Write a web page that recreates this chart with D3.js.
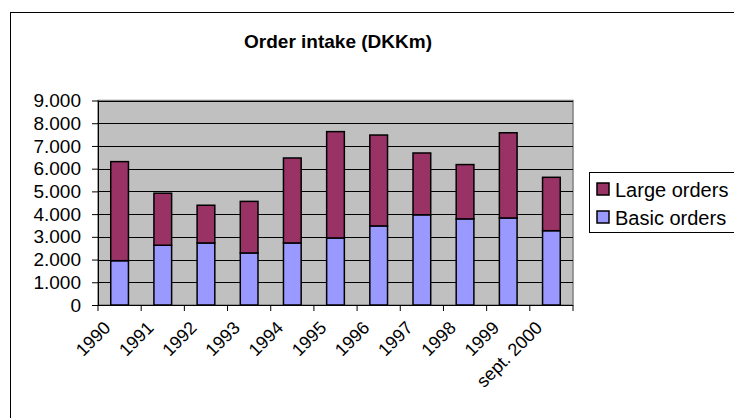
<!DOCTYPE html>
<html><head><meta charset="utf-8">
<script src="https://cdn.jsdelivr.net/npm/d3@7"></script>
<style>body{margin:0;background:#fff}svg{display:block}text{font-family:"Liberation Sans",Arial,sans-serif}</style>
</head><body>
<svg id="c" width="734" height="418"></svg>
<script>
const categories = ["1990","1991","1992","1993","1994","1995","1996","1997","1998","1999","sept. 2000"];
const basicOrders = [1950,2630,2730,2290,2730,2950,3480,3970,3790,3830,3270];
const largeOrders = [4360,2290,1660,2270,3740,4680,4000,2720,2390,3750,2350];
const seriesNames = ["Large orders","Basic orders"];
const yTicks = [0,1000,2000,3000,4000,5000,6000,7000,8000,9000];
const colors = {"Basic orders":"#9999FF","Large orders":"#993366"};

const svg = d3.select("#c");
const fmt = v => v === 0 ? "0" : d3.format(",")(v).replace(/,/g,".");

svg.append("rect").attr("x",10.5).attr("y",12.5).attr("width",740).attr("height",420)
  .attr("fill","#fff").attr("stroke","#000").attr("stroke-width",1);

const L=98, R=573, T=100.5, B=305;
const x = d3.scaleBand().domain(categories).range([L,R]).paddingInner(0.59).paddingOuter(0.295);
const xb = d3.scaleBand().domain(categories).range([L,R]);
const y = d3.scaleLinear().domain([0,9000]).range([B,T]);

svg.append("text").attr("x",338).attr("y",48).attr("text-anchor","middle")
  .attr("font-weight","bold").attr("font-size",19).text("Order intake (DKKm)");

svg.append("rect").attr("x",L).attr("y",T).attr("width",R-L).attr("height",B-T)
  .attr("fill","#C0C0C0").attr("stroke","#808080").attr("stroke-width",1.5);

svg.append("g").selectAll("line").data(yTicks.filter(d=>d>0)).join("line")
  .attr("x1",L).attr("x2",R).attr("y1",d=>Math.round(y(d))+0.5).attr("y2",d=>Math.round(y(d))+0.5)
  .attr("stroke","#000").attr("stroke-width",1);

const stackData = categories.map((c,i)=>({cat:c,"Basic orders":basicOrders[i],"Large orders":largeOrders[i]}));
const stack = d3.stack().keys(["Basic orders","Large orders"])(stackData);
svg.append("g").selectAll("g").data(stack).join("g").attr("fill",s=>colors[s.key])
  .selectAll("rect").data(s=>s).join("rect")
  .attr("x",d=>x(d.data.cat)).attr("width",x.bandwidth())
  .attr("y",d=>y(d[1])).attr("height",d=>y(d[0])-y(d[1]))
  .attr("stroke","#000").attr("stroke-width",1.5);

const yAxis = d3.axisLeft(y).tickValues(yTicks).tickFormat(fmt).tickSize(6).tickPadding(11);
const gy = svg.append("g").attr("transform",`translate(${L},0)`).call(yAxis);
gy.select(".domain").attr("stroke","#000").attr("d",`M0.5,${T}V${B}`);
gy.selectAll("text").attr("font-size",19).attr("fill","#000").style("font-family","Liberation Sans, Arial, sans-serif");

// x axis
const gx = svg.append("g").attr("transform",`translate(0,${B})`);
gx.append("line").attr("x1",L).attr("x2",R).attr("y1",0.5).attr("y2",0.5).attr("stroke","#000");
gx.selectAll("line.t").data(categories.concat(["end"])).join("line").attr("class","t")
  .attr("x1",(d,i)=> i<categories.length ? xb(d) : R).attr("x2",(d,i)=> i<categories.length ? xb(d) : R)
  .attr("y1",0).attr("y2",6).attr("stroke","#000");
gx.selectAll("text").data(categories).join("text")
  .attr("transform",d=>`translate(${xb(d)+xb.bandwidth()/2-8},${24}) rotate(-45)`)
  .attr("text-anchor","end").attr("font-size",18).text(d=>d);

// legend
const lg = svg.append("g");
lg.append("rect").attr("x",589.5).attr("y",172.5).attr("width",150).attr("height",60)
  .attr("fill","#fff").attr("stroke","#000").attr("stroke-width",1);
seriesNames.forEach((n,i)=>{
  lg.append("rect").attr("x",597).attr("y",183+i*28).attr("width",12).attr("height",12)
    .attr("fill",colors[n]).attr("stroke","#000").attr("stroke-width",1.5);
  lg.append("text").attr("x",615).attr("y",197+i*28).attr("font-size",20).text(n);
});
</script>
</body></html>
